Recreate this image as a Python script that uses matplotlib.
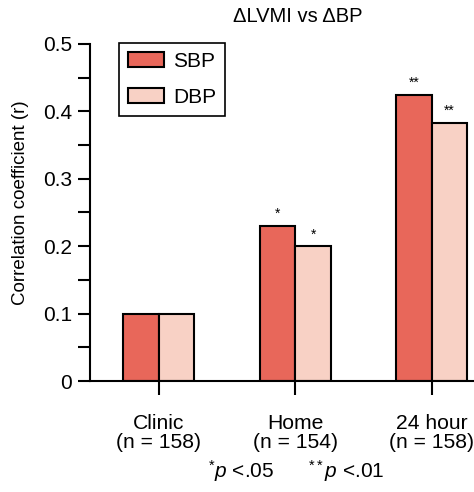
import numpy as np
import matplotlib.pyplot as plt
from matplotlib.ticker import MultipleLocator, FuncFormatter

plt.rcParams['font.family'] = ['Liberation Sans', 'DejaVu Sans']
plt.rcParams['mathtext.fontset'] = 'custom'
plt.rcParams['mathtext.rm'] = 'Liberation Sans'
plt.rcParams['mathtext.it'] = 'Liberation Sans:italic'

categories = ["Clinic\n(n = 158)", "Home\n(n = 154)", "24 hour\n(n = 158)"]
sbp = [0.10, 0.23, 0.425]
dbp = [0.10, 0.20, 0.383]
sbp_stars = ["", "*", "**"]
dbp_stars = ["", "*", "**"]

SBP_COLOR = "#E8675A"
DBP_COLOR = "#F8D1C5"

fig = plt.figure(figsize=(4.74, 4.92), dpi=100)
ax = fig.add_axes([0.19, 0.2256, 0.81, 0.685])

x = np.arange(len(categories))
w = 0.26
ax.bar(x - w/2, sbp, w, color=SBP_COLOR, edgecolor="black", linewidth=1.5, label="SBP")
ax.bar(x + w/2, dbp, w, color=DBP_COLOR, edgecolor="black", linewidth=1.5, label="DBP")

for i in range(len(x)):
    if sbp_stars[i]:
        ax.text(x[i] - w/2, sbp[i] + 0.007, sbp_stars[i], ha="center", va="bottom", fontsize=10)
    if dbp_stars[i]:
        ax.text(x[i] + w/2, dbp[i] + 0.007, dbp_stars[i], ha="center", va="bottom", fontsize=10)

ax.set_xlim(-0.505, 2.31)
ax.set_ylim(0, 0.5)
ax.yaxis.set_major_locator(MultipleLocator(0.1))
ax.yaxis.set_minor_locator(MultipleLocator(0.05))
ax.yaxis.set_major_formatter(FuncFormatter(lambda v, p: "0" if abs(v) < 1e-9 else f"{v:.1f}"))
ax.set_xticks(x)
ax.set_xticklabels(categories, fontsize=15.2, linespacing=1.0)
ax.tick_params(axis="y", which="both", length=9, width=1.5, labelsize=15, pad=4)
ax.tick_params(axis="x", length=10, width=1.5, pad=14)

for s in ["top", "right"]:
    ax.spines[s].set_visible(False)
ax.spines["left"].set_linewidth(1.5)
ax.spines["bottom"].set_linewidth(1.5)

ax.set_ylabel("Correlation coefficient (r)", fontsize=13.5)
ax.yaxis.set_label_coords(-0.16, 0.53)
ax.set_title("\u0394LVMI vs \u0394BP", fontsize=14.5, pad=16, x=0.54)

leg = ax.legend(loc="upper left", bbox_to_anchor=(0.075, 1.003), fontsize=15,
                fancybox=False, edgecolor="black", framealpha=1, borderaxespad=0,
                handlelength=1.75, handleheight=0.72, handletextpad=0.4,
                borderpad=0.44, labelspacing=0.79)
leg.get_frame().set_linewidth(1.2)

fig.text(0.625, 0.043, r"$^{*}p$ <.05      $^{**}p$ <.01", ha="center", va="center", fontsize=15)

fig.savefig("out.png", dpi=100)
